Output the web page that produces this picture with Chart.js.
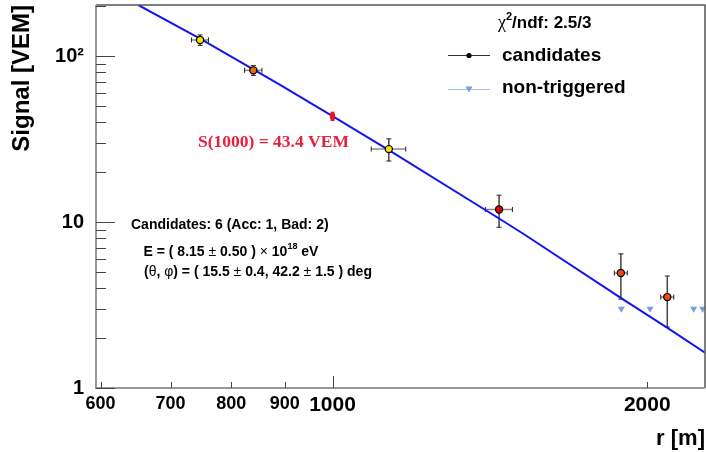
<!DOCTYPE html>
<html>
<head>
<meta charset="utf-8">
<script src="https://cdn.jsdelivr.net/npm/chart.js@4/dist/chart.umd.min.js"></script>
<style>
  body { margin: 0; background: #fff; }
  #wrap { width: 706px; height: 452px; }
</style>
</head>
<body>
<div id="wrap"><canvas id="ldf" width="706" height="452"></canvas></div>
<script>
// station signals vs. distance to the shower core
const candR    = [747, 840, 1132, 1443, 1887, 2090];
const candS    = [125, 82, 27.5, 11.9, 4.93, 3.53];
const candRErr = [14, 16, 43, 43, 27, 30];
const candSErr = [9, 5.5, 4.2, 2.6, 1.5, 1.2];
const candFill = ['#f2e400', '#ee6a00', '#f2e400', '#e00000', '#f0461a', '#ee4a1c'];

const nonTrigR = [1889, 2012, 2215, 2259];
const nonTrigS = [3, 3, 3, 3];

const s1000R   = [1000];
const s1000S   = [43.4];
const s1000Err = [2.8];

// LDF fit curve
const fitR = [652, 747, 891, 1000, 1130, 1443, 1522, 1888, 2089, 2271];
const fitS = [203, 127.5, 67, 43.4, 27.3, 10.5, 8.5, 3.48, 2.31, 1.63];

const xTickVals   = [600, 700, 800, 900, 1000, 2000];
const xTickLabels = ['600', '700', '800', '900', '1000', '2000'];
const xLongTicks  = [1000];
const yTickVals   = [1, 10, 100];
const yTickLabels = ['1', '10', '10\u00b2'];
const yMinorTicks = [2, 3, 4, 5, 6, 7, 8, 9, 20, 30, 40, 50, 60, 70, 80, 90, 200];

const SANS = '"Liberation Sans", Arial, Helvetica, sans-serif';
const SERIF = '"Liberation Serif", "Times New Roman", serif';

function pts(xs, ys) {
  return xs.map((v, i) => ({ x: v, y: ys[i] }));
}

// draw a row of text pieces one after the other
function textRun(ctx, x, y, parts) {
  parts.forEach(p => {
    ctx.font = p.font;
    ctx.fillText(p.t, x, y + (p.dy || 0));
    x += ctx.measureText(p.t).width;
  });
}

const decor = {
  id: 'decor',
  beforeDatasetsDraw(chart) {
    const { ctx, scales: { x, y } } = chart;
    ctx.save();
    // error bars of the candidate stations
    candR.forEach((r, i) => {
      const px = x.getPixelForValue(r);
      const py = y.getPixelForValue(candS[i]);
      const x0 = x.getPixelForValue(r - candRErr[i]);
      const x1 = x.getPixelForValue(r + candRErr[i]);
      const y0 = y.getPixelForValue(candS[i] + candSErr[i]);
      const y1 = y.getPixelForValue(candS[i] - candSErr[i]);
      ctx.lineWidth = 1.5;
      ctx.strokeStyle = '#888';
      ctx.beginPath();
      ctx.moveTo(x0, py); ctx.lineTo(x1, py);
      ctx.stroke();
      ctx.strokeStyle = '#444';
      ctx.beginPath();
      ctx.moveTo(px, y0); ctx.lineTo(px, y1);
      ctx.stroke();
      ctx.lineWidth = 1;
      ctx.strokeStyle = '#222';
      ctx.beginPath();
      ctx.moveTo(x0, py - 2.5); ctx.lineTo(x0, py + 2.5);
      ctx.moveTo(x1, py - 2.5); ctx.lineTo(x1, py + 2.5);
      ctx.moveTo(px - 2.5, y0); ctx.lineTo(px + 2.5, y0);
      ctx.moveTo(px - 2.5, y1); ctx.lineTo(px + 2.5, y1);
      ctx.stroke();
    });
    ctx.restore();
  },
  afterDatasetsDraw(chart) {
    const { ctx, scales: { x, y } } = chart;
    ctx.save();
    // S(1000) with its uncertainty
    s1000R.forEach((r, i) => {
      const px = x.getPixelForValue(r);
      ctx.strokeStyle = '#e8102a';
      ctx.lineWidth = 4;
      ctx.beginPath();
      ctx.moveTo(px, y.getPixelForValue(s1000S[i] + s1000Err[i]));
      ctx.lineTo(px, y.getPixelForValue(s1000S[i] - s1000Err[i]));
      ctx.stroke();
    });
    ctx.restore();
  },
  afterDraw(chart) {
    const { ctx, chartArea: a, scales: { x, y } } = chart;
    ctx.save();

    // frame
    ctx.strokeStyle = '#555';
    ctx.lineWidth = 1.5;
    ctx.beginPath();
    ctx.moveTo(a.left, a.top); ctx.lineTo(a.right, a.top); ctx.lineTo(a.right, a.bottom);
    ctx.stroke();
    ctx.strokeStyle = '#999';
    ctx.lineWidth = 2;
    ctx.beginPath();
    ctx.moveTo(a.left, a.top); ctx.lineTo(a.left, a.bottom); ctx.lineTo(a.right, a.bottom);
    ctx.stroke();

    // inward ticks
    ctx.strokeStyle = '#444';
    ctx.lineWidth = 1;
    ctx.beginPath();
    yTickVals.forEach(v => {
      const py = Math.round(y.getPixelForValue(v)) + 0.5;
      ctx.moveTo(a.left, py); ctx.lineTo(a.left + 19, py);
    });
    yMinorTicks.forEach(v => {
      const py = Math.round(y.getPixelForValue(v)) + 0.5;
      ctx.moveTo(a.left, py); ctx.lineTo(a.left + 10, py);
    });
    xTickVals.forEach(v => {
      const px = Math.round(x.getPixelForValue(v)) + 0.5;
      const len = xLongTicks.includes(v) ? 12 : 6;
      ctx.moveTo(px, a.bottom); ctx.lineTo(px, a.bottom - len);
    });
    ctx.stroke();

    // legend
    const ds = chart.data.datasets;
    ctx.fillStyle = '#000';
    ctx.textBaseline = 'middle';
    textRun(ctx, 498, 23, [
      { t: '\u03c7', font: '18px ' + SERIF },
      { t: '2', font: 'bold 11px ' + SANS, dy: -6 },
      { t: '/ndf: 2.5/3', font: 'bold 17px ' + SANS }
    ]);
    ctx.strokeStyle = '#333';
    ctx.beginPath();
    ctx.moveTo(448, 55.5); ctx.lineTo(490, 55.5);
    ctx.stroke();
    ctx.beginPath();
    ctx.arc(469, 55.5, 2.6, 0, Math.PI * 2);
    ctx.fill();
    ctx.font = 'bold 19px ' + SANS;
    ctx.fillText(ds[1].label, 502, 56);

    ctx.strokeStyle = '#a9c0ec';
    ctx.beginPath();
    ctx.moveTo(448, 89.5); ctx.lineTo(490, 89.5);
    ctx.stroke();
    ctx.fillStyle = '#7a9cda';
    ctx.beginPath();
    ctx.moveTo(465.5, 86.5); ctx.lineTo(472.5, 86.5); ctx.lineTo(469, 92.5);
    ctx.closePath();
    ctx.fill();
    ctx.fillStyle = '#000';
    ctx.fillText(ds[2].label, 502, 88);

    // S(1000) label
    ctx.textBaseline = 'alphabetic';
    ctx.fillStyle = '#e8203f';
    ctx.font = 'bold 17.5px ' + SERIF;
    ctx.fillText('S(1000) = 43.4 VEM', 198, 146.5);

    // reconstruction summary
    ctx.fillStyle = '#000';
    const b = 'bold 14px ' + SANS;
    const n = '14px ' + SANS;
    textRun(ctx, 131, 228.5, [{ t: 'Candidates: 6 (Acc: 1, Bad: 2)', font: b }]);
    textRun(ctx, 143.5, 256, [
      { t: 'E = ( 8.15 ', font: b },
      { t: '\u00b1', font: n },
      { t: ' 0.50 ) ', font: b },
      { t: '\u00d7', font: n },
      { t: ' 10', font: b },
      { t: '18', font: 'bold 9px ' + SANS, dy: -7 },
      { t: ' eV', font: b }
    ]);
    textRun(ctx, 144, 276, [
      { t: '(', font: b },
      { t: '\u03b8', font: n },
      { t: ', ', font: b },
      { t: '\u03c6', font: n },
      { t: ') = ( 15.5 ', font: b },
      { t: '\u00b1', font: n },
      { t: ' 0.4, 42.2 ', font: b },
      { t: '\u00b1', font: n },
      { t: ' 1.5 ) deg', font: b }
    ]);
    ctx.restore();
  }
};

new Chart(document.getElementById('ldf'), {
  type: 'scatter',
  data: {
    datasets: [
      {
        label: 'S(1000)',
        data: pts(s1000R, s1000S),
        pointStyle: 'rect',
        pointRadius: 3,
        backgroundColor: '#e8102a',
        borderColor: '#e8102a',
        borderWidth: 1,
        order: 0
      },
      {
        label: 'candidates',
        data: pts(candR, candS),
        pointRadius: 3.6,
        backgroundColor: candFill,
        borderColor: '#000',
        borderWidth: 1.2,
        order: 1
      },
      {
        label: 'non-triggered',
        data: pts(nonTrigR, nonTrigS),
        pointStyle: 'triangle',
        rotation: 180,
        pointRadius: 4,
        backgroundColor: '#7a9cda',
        borderColor: '#7a9cda',
        borderWidth: 0,
        order: 2
      },
      {
        label: 'fit',
        type: 'line',
        data: pts(fitR, fitS),
        borderColor: '#1414f0',
        borderWidth: 2,
        pointRadius: 0,
        tension: 0,
        fill: false,
        order: 3
      }
    ]
  },
  options: {
    responsive: false,
    animation: false,
    events: [],
    layout: { autoPadding: false, padding: { top: 5, right: 1, left: 0, bottom: 0 } },
    plugins: { legend: { display: false }, tooltip: { enabled: false } },
    scales: {
      x: {
        type: 'logarithmic',
        position: 'bottom',
        min: 594,
        max: 2271,
        afterBuildTicks: s => { s.ticks = xTickVals.map(v => ({ value: v })); },
        afterFit: s => {
          s.height = 64;
          s.paddingLeft = 0;
          s.paddingRight = 0;
        },
        grid: { display: false, drawTicks: false },
        border: { display: false },
        ticks: {
          autoSkip: false,
          maxRotation: 0,
          padding: 5,
          color: '#000',
          font: c => ({ family: SANS, weight: 'bold', size: c.tick && c.tick.value >= 1000 ? 21 : 18 }),
          callback: (v, i) => xTickLabels[i]
        },
        title: {
          display: true,
          text: 'r [m]',
          align: 'end',
          color: '#000',
          font: { family: SANS, weight: 'bold', size: 22 },
          padding: { top: 0, bottom: 0 }
        }
      },
      y: {
        type: 'logarithmic',
        position: 'left',
        min: 1,
        max: 203,
        afterBuildTicks: s => { s.ticks = yTickVals.map(v => ({ value: v })); },
        afterFit: s => {
          s.width = 96;
          s.paddingTop = 0;
          s.paddingBottom = 0;
        },
        grid: { display: false, drawTicks: false },
        border: { display: false },
        ticks: {
          autoSkip: false,
          padding: 12,
          color: '#000',
          font: { family: SANS, weight: 'bold', size: 20 },
          callback: (v, i) => yTickLabels[i]
        },
        title: {
          display: true,
          text: 'Signal [VEM]',
          align: 'end',
          color: '#000',
          font: { family: SANS, weight: 'bold', size: 24 },
          padding: { top: 8, bottom: 0 }
        }
      }
    }
  },
  plugins: [decor]
});
</script>
</body>
</html>
